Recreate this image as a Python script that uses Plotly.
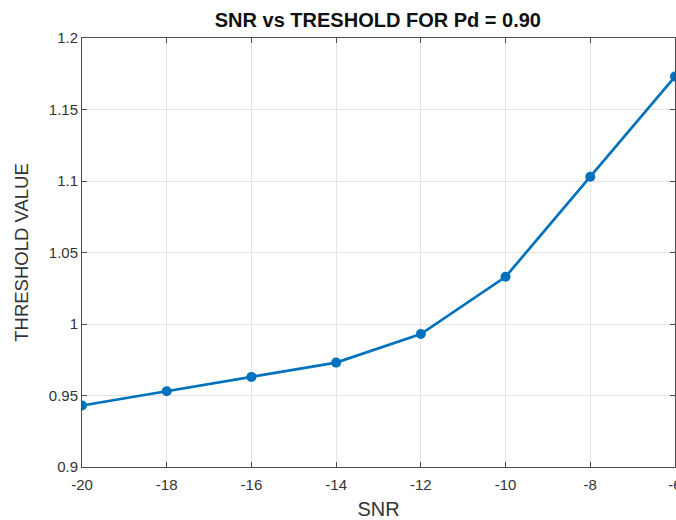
import plotly.graph_objects as go

snr = [-20, -18, -16, -14, -12, -10, -8, -6]
threshold = [0.943, 0.953, 0.963, 0.973, 0.993, 1.033, 1.103, 1.173]
x_ticks = [-20, -18, -16, -14, -12, -10, -8, -6]
x_tick_labels = ["-20", "-18", "-16", "-14", "-12", "-10", "-8", "-6"]
y_ticks = [0.9, 0.95, 1.0, 1.05, 1.1, 1.15, 1.2]
y_tick_labels = ["0.9", "0.95", "1", "1.05", "1.1", "1.15", "1.2"]

FONT = "Liberation Sans, Arial, Helvetica"

fig = go.Figure()
fig.add_trace(go.Scatter(
    x=snr, y=threshold, mode="lines+markers",
    line=dict(color="#0072BD", width=2.7),
    marker=dict(color="#0072BD", size=10, symbol="circle"),
    showlegend=False,
))

axis_common = dict(
    showline=True, linecolor="#4d4d4d", linewidth=1, mirror="ticks",
    ticks="inside", ticklen=5, tickcolor="#4d4d4d",
    showgrid=True, gridcolor="#e3e3e3", gridwidth=1,
    zeroline=False, automargin=False, ticklabeloverflow="allow",
    tickfont=dict(family=FONT, size=15, color="#333333"),
)

fig.update_layout(
    width=676, height=520,
    margin=dict(l=82, r=1, t=38, b=53),
    paper_bgcolor="white", plot_bgcolor="white",
    title=dict(text="<b>SNR vs TRESHOLD FOR Pd = 0.90</b>", x=0.559, xanchor="center",
               y=1 - 20 / 520, yanchor="middle",
               font=dict(family=FONT, size=20, color="#111111")),
    xaxis=dict(axis_common, range=[-20, -6], tickvals=x_ticks, ticktext=x_tick_labels,
               ticklabelstandoff=4,
               title=dict(text="SNR", standoff=10,
                          font=dict(family=FONT, size=20, color="#333333"))),
    yaxis=dict(axis_common, range=[0.9, 1.2], tickvals=y_ticks, ticktext=y_tick_labels,
               title=dict(text="THRESHOLD VALUE", standoff=15,
                          font=dict(family=FONT, size=18.5, color="#333333"))),
)

fig.write_html("out.html", config={"displayModeBar": False},
               post_script="document.body.style.margin='0';")
